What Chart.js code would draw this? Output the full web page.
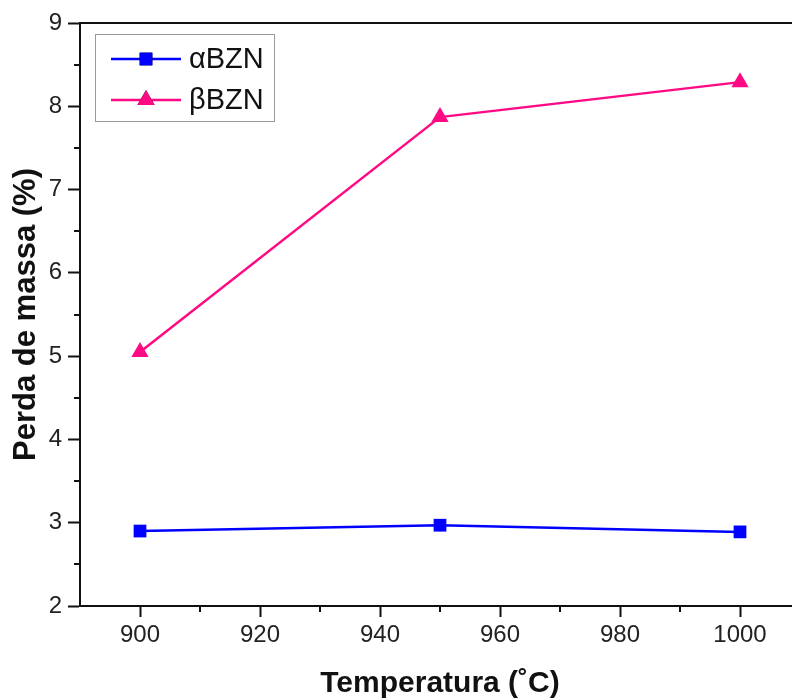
<!DOCTYPE html>
<html>
<head>
<meta charset="utf-8">
<script src="https://cdn.jsdelivr.net/npm/chart.js@4.4.1/dist/chart.umd.min.js"></script>
<style>
  html, body { margin: 0; padding: 0; background: #fff; overflow: hidden; }
  #chart { position: absolute; left: 0; top: 0; }
</style>
</head>
<body>
<canvas id="chart" width="802" height="698"></canvas>
<script>
// data
const temps = [900, 950, 1000];
const alphaBZN = [2.90, 2.97, 2.89];
const betaBZN = [5.05, 7.87, 8.29];
const xTicks = [900, 920, 940, 960, 980, 1000];
const yTicks = [2, 3, 4, 5, 6, 7, 8, 9];

const font = "'Liberation Sans', Arial, sans-serif";

// minor ticks, top border and Origin-style legend
const frame = {
    id: 'frame',
    afterDraw(chart) {
        const c = chart.ctx;
        const a = chart.chartArea;
        const xs = chart.scales.x, ys = chart.scales.y;
        c.save();
        c.strokeStyle = '#111';
        c.lineWidth = 2;
        c.beginPath();
        c.moveTo(a.left - 1, a.top);
        c.lineTo(a.right + 1, a.top);
        c.stroke();
        // minor ticks
        c.beginPath();
        for (let v = 910; v < 1010; v += 20) {
            const px = Math.round(xs.getPixelForValue(v));
            c.moveTo(px, a.bottom);
            c.lineTo(px, a.bottom + 6);
        }
        for (let v = 2.5; v < 9; v += 1) {
            const py = Math.round(ys.getPixelForValue(v));
            c.moveTo(a.left, py);
            c.lineTo(a.left - 6, py);
        }
        c.stroke();

        // legend box
        c.strokeStyle = '#999';
        c.lineWidth = 1;
        c.strokeRect(95.5, 34.5, 179, 87);
        const rows = [59, 100];
        chart.data.datasets.forEach((ds, i) => {
            const y = rows[i];
            c.strokeStyle = ds.borderColor;
            c.lineWidth = 2.5;
            c.beginPath();
            c.moveTo(111, y);
            c.lineTo(181, y);
            c.stroke();
            Chart.helpers.drawPoint(c, {
                pointStyle: ds.pointStyle,
                radius: ds.pointRadius,
                borderWidth: 0
            }, 146, y);
            c.fillStyle = ds.backgroundColor;
            c.fill();
            c.fillStyle = '#111';
            c.font = '29px ' + font;
            c.textBaseline = 'middle';
            c.fillText(ds.label, 189, y + 1);
        });
        c.restore();
    }
};

new Chart(document.getElementById('chart'), {
    type: 'line',
    data: {
        datasets: [{
            label: 'αBZN',
            data: temps.map((t, i) => ({ x: t, y: alphaBZN[i] })),
            borderColor: '#0000ff',
            backgroundColor: '#0000ff',
            borderWidth: 2.5,
            pointStyle: 'rect',
            pointRadius: 9,
            pointHoverRadius: 9,
            pointBorderWidth: 0
        }, {
            label: 'βBZN',
            data: temps.map((t, i) => ({ x: t, y: betaBZN[i] })),
            borderColor: '#ff0a84',
            backgroundColor: '#ff0a84',
            borderWidth: 2.5,
            pointStyle: 'triangle',
            pointRadius: 10,
            pointHoverRadius: 10,
            pointBorderWidth: 0
        }]
    },
    options: {
        responsive: false,
        animation: false,
        // the plot runs on past the right edge of the picture (axis ends at 1010)
        layout: { autoPadding: false, padding: { top: 23, right: 2, left: 0, bottom: 0 } },
        plugins: {
            legend: { display: false },
            tooltip: { enabled: false }
        },
        scales: {
            x: {
                type: 'linear',
                min: 890,
                max: 1010,
                afterBuildTicks: s => { s.ticks = xTicks.map(v => ({ value: v })); },
                afterFit: s => { s.height = 92; },
                border: { color: '#111', width: 2 },
                grid: { drawOnChartArea: false, tickLength: 11, tickColor: '#111', tickWidth: 2 },
                ticks: {
                    color: '#222',
                    font: { family: font, size: 24 },
                    padding: 4,
                    callback: v => String(v)
                },
                title: {
                    display: true,
                    text: 'Temperatura (˚C)',
                    color: '#111',
                    font: { family: font, size: 30, weight: 'bold' },
                    padding: { top: 10, bottom: -4 }
                }
            },
            y: {
                type: 'linear',
                min: 2,
                max: 9,
                afterBuildTicks: s => { s.ticks = yTicks.map(v => ({ value: v })); },
                afterFit: s => { s.width = 80; },
                border: { color: '#111', width: 2 },
                grid: { drawOnChartArea: false, tickLength: 12, tickColor: '#111', tickWidth: 2 },
                ticks: {
                    color: '#222',
                    font: { family: font, size: 24 },
                    padding: 6,
                    callback: v => String(v)
                },
                title: {
                    display: true,
                    text: 'Perda de massa (%)',
                    color: '#111',
                    font: { family: font, size: 31, weight: 'bold' },
                    padding: { top: 8, bottom: 0 }
                }
            }
        }
    },
    plugins: [frame]
});
</script>
</body>
</html>
